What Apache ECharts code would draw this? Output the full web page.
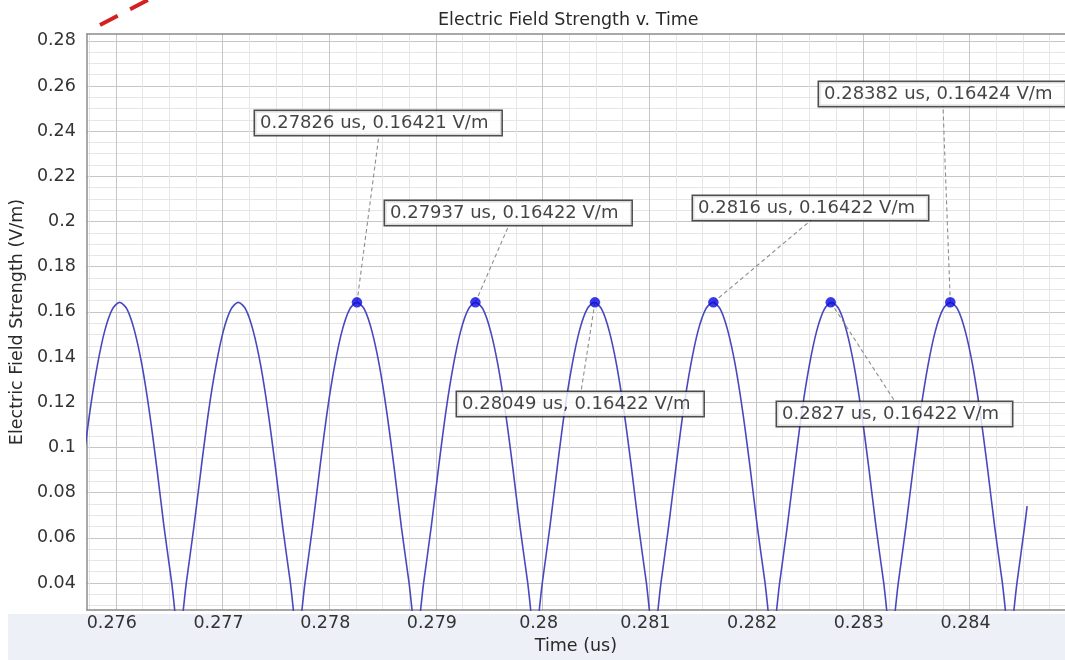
<!DOCTYPE html>
<html>
<head>
<meta charset="utf-8">
<script src="https://cdn.jsdelivr.net/npm/echarts@6/dist/echarts.min.js"></script>
<style>html,body{margin:0;padding:0;background:#fff;}#c{width:1065px;height:660px;}</style>
</head>
<body>
<div id="c"></div>
<script>
// ---- data ----
const timeUs = [
  0.275689, 0.275758, 0.275828, 0.275897, 0.275967, 0.276036, 0.276106, 0.276175, 0.276245, 0.276314, 0.276384, 0.276453, 0.276523, 0.276592,
  0.276662, 0.276731, 0.276801, 0.276870, 0.276940, 0.277009, 0.277079, 0.277148, 0.277218, 0.277287, 0.277357, 0.277426, 0.277496, 0.277565, 0.277635, 0.277704,
  0.277774, 0.277843, 0.277913, 0.277982, 0.278052, 0.278121, 0.278191, 0.278260, 0.278330, 0.278399, 0.278469, 0.278538, 0.278608, 0.278677, 0.278747, 0.278816,
  0.278886, 0.278955, 0.279025, 0.279094, 0.279164, 0.279233, 0.279303, 0.279372, 0.279442, 0.279511, 0.279581, 0.279650, 0.279720, 0.279789, 0.279859, 0.279928,
  0.279998, 0.280067, 0.280137, 0.280206, 0.280276, 0.280345, 0.280415, 0.280484, 0.280554, 0.280623, 0.280693, 0.280762, 0.280832, 0.280901, 0.280971, 0.281040,
  0.281110, 0.281179, 0.281249, 0.281318, 0.281388, 0.281457, 0.281527, 0.281596, 0.281666, 0.281735, 0.281805, 0.281874, 0.281944, 0.282013, 0.282083, 0.282152,
  0.282222, 0.282291, 0.282361, 0.282430, 0.282500, 0.282569, 0.282639, 0.282708, 0.282778, 0.282847, 0.282917, 0.282986, 0.283056, 0.283125, 0.283195, 0.283264,
  0.283334, 0.283403, 0.283473, 0.283542, 0.283612, 0.283681, 0.283751, 0.283820, 0.283890, 0.283959, 0.284029, 0.284098, 0.284168, 0.284237, 0.284307, 0.284376,
  0.284446, 0.284515, 0.284540
];
const fieldVm = [
  0.0912, 0.1161, 0.1365, 0.1517, 0.1611, 0.1642, 0.1611, 0.1517, 0.1365, 0.1161, 0.0912, 0.0645, 0.0405, 0.0161,
  0.0405, 0.0645, 0.0912, 0.1161, 0.1365, 0.1517, 0.1611, 0.1642, 0.1611, 0.1517, 0.1365, 0.1161, 0.0912, 0.0645, 0.0405, 0.0161,
  0.0405, 0.0645, 0.0912, 0.1161, 0.1365, 0.1517, 0.1611, 0.1642, 0.1611, 0.1517, 0.1365, 0.1161, 0.0912, 0.0645, 0.0405, 0.0161,
  0.0405, 0.0645, 0.0912, 0.1161, 0.1365, 0.1517, 0.1611, 0.1642, 0.1611, 0.1517, 0.1365, 0.1161, 0.0912, 0.0645, 0.0405, 0.0161,
  0.0405, 0.0645, 0.0912, 0.1161, 0.1365, 0.1517, 0.1611, 0.1642, 0.1611, 0.1517, 0.1365, 0.1161, 0.0912, 0.0645, 0.0405, 0.0161,
  0.0405, 0.0645, 0.0912, 0.1161, 0.1365, 0.1517, 0.1611, 0.1642, 0.1611, 0.1517, 0.1365, 0.1161, 0.0912, 0.0645, 0.0405, 0.0161,
  0.0405, 0.0645, 0.0912, 0.1161, 0.1365, 0.1517, 0.1611, 0.1642, 0.1611, 0.1517, 0.1365, 0.1161, 0.0912, 0.0645, 0.0405, 0.0161,
  0.0405, 0.0645, 0.0912, 0.1161, 0.1365, 0.1517, 0.1611, 0.1642, 0.1611, 0.1517, 0.1365, 0.1161, 0.0912, 0.0645, 0.0405, 0.0161,
  0.0405, 0.0645, 0.0740
];
const peakTimes  = [0.27826, 0.27937, 0.28049, 0.2816, 0.2827, 0.28382];
const peakValues = [0.16421, 0.16422, 0.16422, 0.16422, 0.16422, 0.16424];
const xTickLabels = [0.276, 0.277, 0.278, 0.279, 0.28, 0.281, 0.282, 0.283, 0.284];
const yTickLabels = [0.04, 0.06, 0.08, 0.1, 0.12, 0.14, 0.16, 0.18, 0.2, 0.22, 0.24, 0.26, 0.28];

// ---- axis ranges & layout ----
const xMin = 0.275729, xMax = 0.284895;
const yMin = 0.028, yMax = 0.283;
const labelBoxes = [[255, 111], [385, 201], [457, 392], [693, 196], [777, 402], [819, 82]];
const BOX_H = 24;

const xMinor = [];
for (let j = 1; j < 60; j++) {
  if (j % 4 === 2) continue;
  const v = 0.2755 + j * 0.00025;
  if (v > xMin && v < xMax) xMinor.push(+v.toFixed(6));
}
const yMinor = [];
for (let j = 1; j < 60; j++) {
  if (j % 4 === 3) continue;
  const v = 0.025 + j * 0.005;
  if (v > yMin && v < yMax) yMinor.push(+v.toFixed(4));
}

const FONT = 'DejaVu Sans';
const labelText = i => peakTimes[i] + ' us, ' + peakValues[i] + ' V/m';
const mctx = document.createElement('canvas').getContext('2d');
mctx.font = '18px "DejaVu Sans"';
const boxW = peakTimes.map((t, i) => mctx.measureText(labelText(i)).width + 18 + 1.5);

const chart = echarts.init(document.getElementById('c'), null, {renderer: 'canvas'});
const curve = timeUs.map((t, i) => [t, fieldVm[i]]);
const peaks = peakTimes.map((t, i) => [t, peakValues[i]]);
const axisGray = '#8c8c8c';

chart.setOption({
  backgroundColor: '#ffffff',
  animation: false,
  title: {
    text: 'Electric Field Strength v. Time',
    left: 438, top: 11, padding: 0,
    textStyle: {fontFamily: FONT, fontSize: 17.5, fontWeight: 'normal', color: '#2a2a2a', lineHeight: 19}
  },
  graphic: [
    {type: 'rect', z: -1, shape: {x: 8, y: 614, width: 1057, height: 46}, style: {fill: '#eef0f8'}},
    {type: 'line', z: 10, shape: {x1: 100, y1: 25, x2: 165, y2: -9},
     style: {stroke: '#d42020', lineWidth: 4, lineDash: [20, 14]}}
  ],
  grid: {
    left: 83, top: 34, right: 0, height: 579,
    show: true, backgroundColor: '#ffffff', borderWidth: 0,
    containLabel: false
  },
  xAxis: [
    {
      type: 'value', min: xMin, max: xMax, position: 'bottom',
      name: 'Time (us)', nameLocation: 'middle', nameGap: 25,
      nameTextStyle: {fontFamily: FONT, fontSize: 17.5, color: '#2a2a2a'},
      axisLine: {show: true, onZero: false, lineStyle: {color: axisGray, width: 1.5}},
      axisTick: {show: false, customValues: xTickLabels},
      axisLabel: {customValues: xTickLabels, fontFamily: FONT, fontSize: 17.5, color: '#333', margin: 4,
                  padding: [0, 8, 0, 0]},
      splitLine: {show: true, lineStyle: {color: '#c6c6c6', width: 1}}
    },
    {
      type: 'value', min: xMin, max: xMax, gridIndex: 0, position: 'top',
      axisLine: {show: true, onZero: false, lineStyle: {color: axisGray, width: 1.5}},
      axisTick: {show: false, customValues: xMinor},
      axisLabel: {show: false, customValues: xMinor},
      splitLine: {show: true, lineStyle: {color: '#e6e6e6', width: 1}}
    }
  ],
  yAxis: [
    {
      type: 'value', min: yMin, max: yMax, position: 'left',
      name: 'Electric Field Strength (V/m)', nameLocation: 'middle', nameGap: 55,
      nameTextStyle: {fontFamily: FONT, fontSize: 17.5, color: '#2a2a2a'},
      axisLine: {show: true, onZero: false, lineStyle: {color: axisGray, width: 1.5}},
      axisTick: {show: false, customValues: yTickLabels},
      axisLabel: {customValues: yTickLabels, fontFamily: FONT, fontSize: 17.5, color: '#333', margin: 11},
      splitLine: {show: true, lineStyle: {color: '#c6c6c6', width: 1}}
    },
    {
      type: 'value', min: yMin, max: yMax, gridIndex: 0, position: 'right',
      axisLine: {show: false}, axisTick: {show: false, customValues: yMinor},
      axisLabel: {show: false, customValues: yMinor},
      splitLine: {show: true, lineStyle: {color: '#e6e6e6', width: 1}}
    }
  ],
  series: [
    {
      type: 'line', xAxisIndex: 0, yAxisIndex: 0, data: curve,
      showSymbol: false, symbol: 'none', smooth: 0.3, clip: true,
      lineStyle: {color: '#4848c0', width: 1.6},
      emphasis: {disabled: true}, z: 3
    },
    {
      type: 'custom', xAxisIndex: 0, yAxisIndex: 0, data: peaks, z: 4, silent: true, clip: false,
      renderItem: (params, api) => {
        const i = params.dataIndex;
        const p = api.coord([api.value(0), api.value(1)]);
        const b = labelBoxes[i];
        const ax = b[0] + boxW[i] / 2;
        const ay = (b[1] + BOX_H / 2 < p[1]) ? b[1] + BOX_H : b[1];
        return {type: 'line', shape: {x1: p[0], y1: p[1], x2: ax, y2: ay},
                style: {stroke: '#8e8e8e', lineWidth: 1.1, lineDash: [4, 3]}};
      }
    },
    {
      type: 'scatter', xAxisIndex: 0, yAxisIndex: 0, data: peaks,
      symbol: 'circle', symbolSize: 10.5,
      itemStyle: {color: '#0808e0'},
      emphasis: {disabled: true}, z: 5,
      label: {
        show: true,
        formatter: p => labelText(p.dataIndex),
        fontFamily: FONT, fontSize: 18, color: '#151515', lineHeight: 19,
        backgroundColor: '#ffffff', borderColor: '#222', borderWidth: 1.5,
        padding: [3, 13, 2, 5]
      },
      labelLayout: p => {
        const b = labelBoxes[p.dataIndex];
        return {x: b[0], y: b[1], align: 'left', verticalAlign: 'top'};
      }
    }
  ]
});
</script>
</body>
</html>
